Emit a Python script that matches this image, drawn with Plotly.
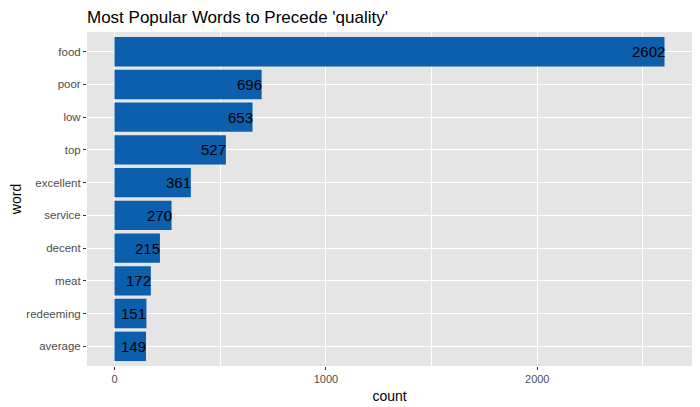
import plotly.graph_objects as go

# Word counts (bottom to top in the chart)
words = ["average", "redeeming", "meat", "decent", "service",
         "excellent", "top", "low", "poor", "food"]
counts = [149, 151, 172, 215, 270, 361, 527, 653, 696, 2602]

chart_title = "Most Popular Words to Precede 'quality'"
bar_color = "#0b5fad"
font_family = "Liberation Sans, Arial, sans-serif"

fig = go.Figure(go.Bar(
    x=counts,
    y=words,
    orientation="h",
    marker=dict(color=bar_color, line=dict(width=0)),
    width=0.9,
    hoverinfo="x+y",
))

# Count labels right-aligned at the end of each bar
for w, c in zip(words, counts):
    fig.add_annotation(x=c, y=w, text=str(c), showarrow=False,
                       xanchor="right", yanchor="middle", xshift=2,
                       font=dict(size=15, color="black", family=font_family))

xmax = max(counts)
# page has an 8px body margin, so the figure is sized 8px smaller
fig.update_layout(
    width=692, height=399,
    margin=dict(l=79, r=8, t=24, b=41, autoexpand=False),
    paper_bgcolor="white",
    plot_bgcolor="#e5e5e5",
    font=dict(family=font_family),
    showlegend=False,
    title=dict(text=chart_title, x=0, xref="paper", xanchor="left",
               y=0.977, yref="container", yanchor="middle",
               font=dict(size=17, color="black")),
    bargap=0.1,
)
fig.update_xaxes(
    range=[-0.05 * xmax, 1.05 * xmax],
    dtick=1000, tick0=0,
    showgrid=True, gridcolor="white", gridwidth=1.4,
    minor=dict(dtick=500, tick0=0, showgrid=True, gridcolor="white",
               gridwidth=0.6, ticks=""),
    zeroline=False, showline=False, automargin=False,
    ticks="outside", ticklen=3, tickcolor="#333333", tickwidth=1,
    tickfont=dict(size=11, color="#4d4d4d"),
    title=dict(text="count", font=dict(size=14, color="black"), standoff=6),
)
fig.update_yaxes(
    range=[-0.6, len(words) - 0.4],
    showgrid=True, gridcolor="white", gridwidth=1.4,
    zeroline=False, showline=False, automargin=False,
    ticks="outside", ticklen=3, tickcolor="#333333", tickwidth=1,
    tickfont=dict(size=11.5, color="#4d4d4d"),
    title=dict(text="word", font=dict(size=14, color="black"), standoff=6),
)

fig.write_html("out.html")
